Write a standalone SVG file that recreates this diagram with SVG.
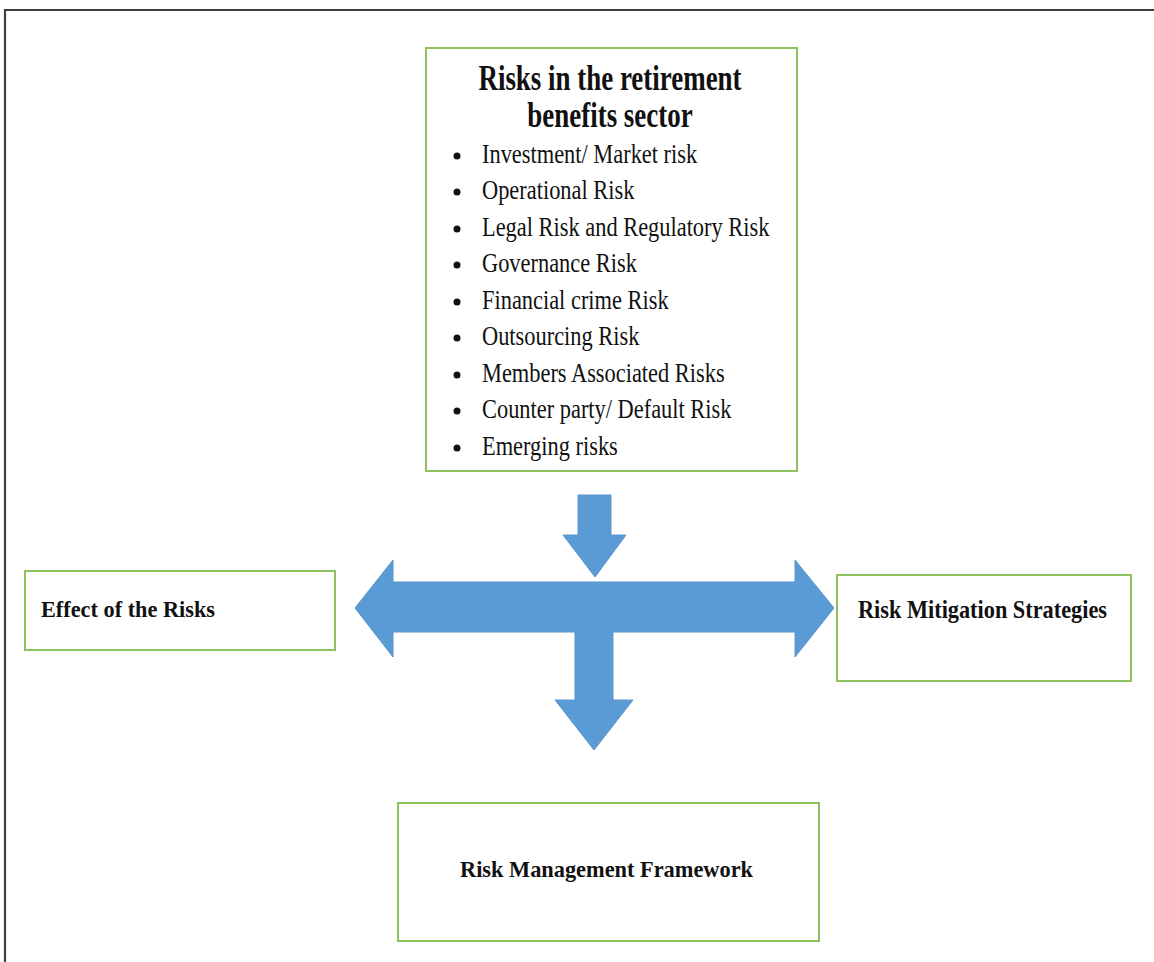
<svg xmlns="http://www.w3.org/2000/svg" width="1154" height="962" viewBox="0 0 1154 962">
  <style>
    .box { fill: #ffffff; stroke: #8dc25f; stroke-width: 2; }
    .head { font-family: "Liberation Serif", "Times New Roman", serif; font-weight: bold; fill: #111111; }
    .item { font-family: "Liberation Serif", "Times New Roman", serif; font-size: 27px; fill: #111111; }
    .arrow { fill: #5b9bd5; stroke: #5a94cc; stroke-width: 1; }
    .dot { fill: #111111; }
  </style>

  <!-- page background and frame -->
  <rect x="0" y="0" width="1154" height="962" fill="#ffffff"/>
  <path d="M5,962 V10 H1154" fill="none" stroke="#3f3f3f" stroke-width="2.2"/>

  <!-- block arrows -->
  <g id="connectors">
    <path class="arrow" d="M578,495 L611,495 L611,535 L626,535 L595,577 L563,535 L578,535 Z"/>
    <path class="arrow" d="M355,608 L393,560 L393,582 L795,582 L795,560 L834,608 L795,657 L795,632 L613,632 L613,700 L633,700 L594,750 L555,700 L575,700 L575,632 L393,632 L393,657 Z"/>
  </g>

  <!-- list of risk categories -->
  <g id="risks">
    <rect class="box" x="426" y="48" width="371" height="423"/>
    <g transform="translate(610,0) scale(0.77,1)">
      <text class="head" font-size="35" x="0" y="90" text-anchor="middle">Risks in the retirement</text>
      <text class="head" font-size="35" x="0" y="127" text-anchor="middle">benefits sector</text>
    </g>
    <g>
      <circle class="dot" cx="457" cy="156" r="3.5"/>
      <circle class="dot" cx="457" cy="192" r="3.5"/>
      <circle class="dot" cx="457" cy="229" r="3.5"/>
      <circle class="dot" cx="457" cy="265" r="3.5"/>
      <circle class="dot" cx="457" cy="302" r="3.5"/>
      <circle class="dot" cx="457" cy="338" r="3.5"/>
      <circle class="dot" cx="457" cy="375" r="3.5"/>
      <circle class="dot" cx="457" cy="411" r="3.5"/>
      <circle class="dot" cx="457" cy="448" r="3.5"/>
    </g>
    <g transform="translate(482,0) scale(0.83,1)">
      <text class="item" x="0" y="163">Investment/ Market risk</text>
      <text class="item" x="0" y="199">Operational Risk</text>
      <text class="item" x="0" y="236">Legal Risk and Regulatory Risk</text>
      <text class="item" x="0" y="272">Governance Risk</text>
      <text class="item" x="0" y="309">Financial crime Risk</text>
      <text class="item" x="0" y="345">Outsourcing Risk</text>
      <text class="item" x="0" y="382">Members Associated Risks</text>
      <text class="item" x="0" y="418">Counter party/ Default Risk</text>
      <text class="item" x="0" y="455">Emerging risks</text>
    </g>
  </g>

  <!-- effects -->
  <g id="effects">
    <rect class="box" x="25" y="571" width="310" height="79"/>
    <text class="head" font-size="24" x="41" y="617" textLength="174" lengthAdjust="spacingAndGlyphs">Effect of the Risks</text>
  </g>

  <!-- mitigation -->
  <g id="mitigation">
    <rect class="box" x="837" y="575" width="294" height="106"/>
    <text class="head" font-size="25" x="858" y="618" textLength="249" lengthAdjust="spacingAndGlyphs">Risk Mitigation Strategies</text>
  </g>

  <!-- framework -->
  <g id="framework">
    <rect class="box" x="398" y="803" width="421" height="138"/>
    <text class="head" font-size="24" x="460" y="877" textLength="293" lengthAdjust="spacingAndGlyphs">Risk Management Framework</text>
  </g>
</svg>
